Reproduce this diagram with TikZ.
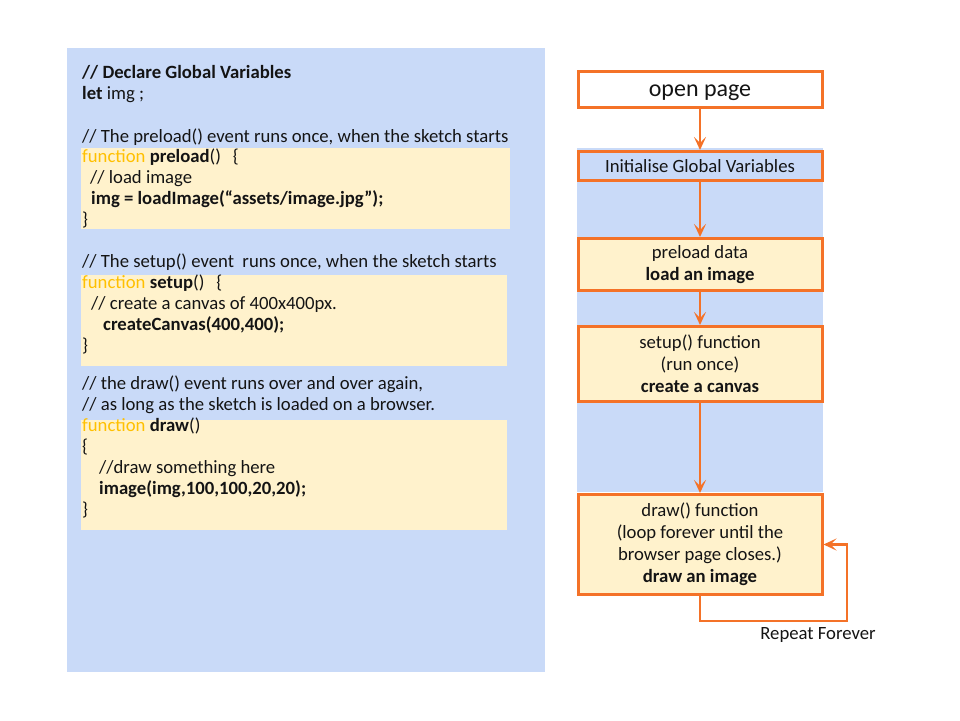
\documentclass[tikz,border=0pt]{standalone}
\usepackage{fontspec}
\setmainfont{Carlito}
\usetikzlibrary{arrows.meta}
\definecolor{panelblue}{RGB}{201,218,248}
\definecolor{codeyellow}{RGB}{255,242,204}
\definecolor{flowor}{RGB}{244,114,40}
\definecolor{kwcol}{RGB}{255,192,0}
\definecolor{txt}{RGB}{20,20,20}
\newcommand{\kw}[1]{\textcolor{kwcol}{#1}}
\begin{document}
\begin{tikzpicture}[x=1pt,y=-1pt,
  code/.style={anchor=base west,inner sep=0pt,text=txt,font=\fontsize{18.7}{21}\selectfont},
  flowbox/.style={draw=flowor,line width=3pt,minimum width=244pt,align=center,inner sep=0pt,text=txt,font=\fontsize{18.7}{22}\selectfont},
  arr/.style={draw=flowor,line width=2.2pt,-{Stealth[length=13pt,width=12pt,inset=6pt]}}]
\useasboundingbox (0,0) rectangle (960,720);
% panels
\fill[panelblue] (67,48) rectangle (545,672);
\fill[codeyellow] (81,148) rectangle (510,229);
\fill[codeyellow] (81,275) rectangle (507,366);
\fill[codeyellow] (81,420) rectangle (507,530);
\fill[panelblue] (577,148) rectangle (823,492);
% code
\node[code] (c1) at (82,78) {\textbf{// Declare Global Variables}};
\node[code] (c2) at (82,99) {\textbf{let} img ;};
\node[code] (c3) at (82,142) {// The preload() event runs once, when the sketch starts};
\node[code] (c4) at (82,162) {\kw{function} \textbf{preload}()\hspace{12pt}\{};
\node[code] (c5) at (90,183) {// load image};
\node[code] (c6) at (91,204) {\textbf{img = loadImage(“assets/image.jpg”);}};
\node[code] (c7) at (82,225) {\}};
\node[code] (c8) at (82,267) {// The setup() event\ \ runs once, when the sketch starts};
\node[code] (c9) at (82,288) {\kw{function} \textbf{setup}()\hspace{12pt}\{};
\node[code] (c10) at (91,309) {// create a canvas of 400x400px.};
\node[code] (c11) at (103,330) {\textbf{createCanvas(400,400);}};
\node[code] (c12) at (82,351) {\}};
\node[code] (c13) at (82,389) {// the draw() event runs over and over again,};
\node[code] (c14) at (82,410) {// as long as the sketch is loaded on a browser.};
\node[code] (c15) at (82,431) {\kw{function} \textbf{draw}()};
\node[code] (c16) at (82,452) {\{};
\node[code] (c17) at (99,473) {//draw something here};
\node[code] (c18) at (99,494) {\textbf{image(img,100,100,20,20);}};
\node[code] (c19) at (82,515) {\}};
% flow boxes
\node[flowbox,fill=white,minimum height=36pt,font=\fontsize{24}{26}\selectfont] (open) at (700,89.5) {\raisebox{-7pt}[0pt][0pt]{open page}};
\node[flowbox,fill=panelblue,minimum height=29pt] (init) at (700,166) {Initialise Global Variables};
\node[flowbox,fill=codeyellow,minimum height=52pt] (pre) at (700,264.5) {preload data\\\textbf{load an image}};
\node[flowbox,fill=codeyellow,minimum height=75pt] (setup) at (700,364) {setup() function\\(run once)\\\textbf{create a canvas}};
\node[flowbox,fill=codeyellow,minimum height=100pt] (drawbox) at (700,544.5) {draw() function\\(loop forever until the\\browser page closes.)\\\textbf{draw an image}};
% connectors
\draw[arr] (open) -- (init);
\draw[arr] (init) -- (pre);
\draw[arr] (pre) -- (setup);
\draw[arr] (setup) -- (drawbox);
\coordinate (rp) at (847,621);
\draw[arr] (drawbox.south) |- (rp) |- (drawbox.east);
\node[anchor=base,inner sep=0pt,text=txt,font=\fontsize{18.7}{21}\selectfont] (rep) at (818,639) {Repeat Forever};
\end{tikzpicture}
\end{document}
